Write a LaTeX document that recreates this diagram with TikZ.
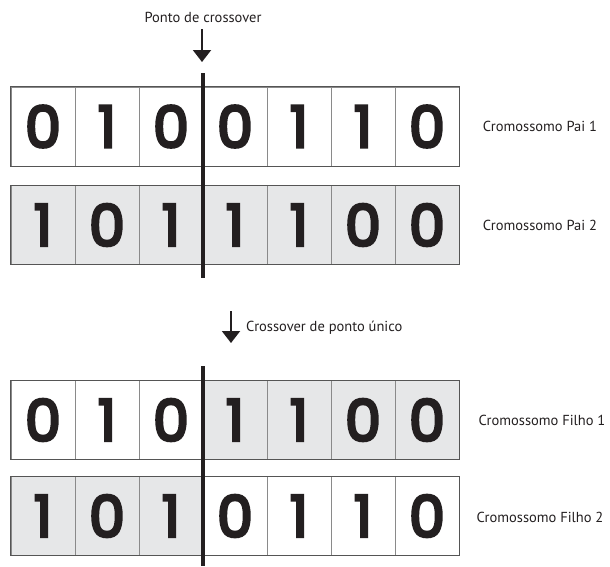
\documentclass[tikz,border=0pt]{standalone}
\usepackage{fontspec}
\setmainfont{PT Sans}
\newfontfamily\digitfont{Poppins}[FakeBold=5]
\usetikzlibrary{arrows.meta}
\definecolor{cellgray}{HTML}{E6E7E8}
\definecolor{divgray}{HTML}{8A8A8A}
\definecolor{outgray}{HTML}{555555}
\definecolor{ink}{HTML}{231F20}
\begin{document}
\begin{tikzpicture}[x=1pt,y=-1pt,
  cell/.style={draw=divgray,line width=0.8pt,minimum width=64pt,minimum height=79pt,inner sep=0pt,
    font=\digitfont\fontsize{57}{57}\selectfont,text=ink},
  g/.style={fill=cellgray},
  w/.style={fill=white},
  outer/.style={draw=outgray,line width=1pt},
  cut/.style={draw=ink,line width=3.3pt},
  lab/.style={font=\fontsize{14.5}{15}\selectfont,text=ink,inner sep=0pt},
  arr/.style={draw=ink,line width=2pt,-{Triangle[width=18pt,length=12pt]}}]
\useasboundingbox (0,0) rectangle (610,566);
% row 1: Pai 1
\foreach \v [count=\i] in {0,1,0,0,1,1,0}
  \node[cell,w] (a\i) at ({11+32+64*(\i-1)},126.5) {\v};
% row 2: Pai 2
\foreach \v [count=\i] in {1,0,1,1,1,0,0}
  \node[cell,g] (b\i) at ({11+32+64*(\i-1)},225) {\v};
% row 3: Filho 1
\foreach \v/\f [count=\i] in {0/w,1/w,0/w,1/g,1/g,0/g,0/g}
  \node[cell,\f] (c\i) at ({11+32+64*(\i-1)},420) {\v};
% row 4: Filho 2
\foreach \v/\f [count=\i] in {1/g,0/g,1/g,0/w,1/w,1/w,0/w}
  \node[cell,\f] (d\i) at ({11+32+64*(\i-1)},516) {\v};
\foreach \r in {a,b,c,d}
  \draw[outer] (\r1.north west) rectangle (\r7.south east);
% labels
\node[lab] (la) at (540,126.5) {Cromossomo Pai 1};
\node[lab] (lb) at (540,225) {Cromossomo Pai 2};
\node[lab] (lc) at (542,420) {Cromossomo Filho 1};
\node[lab] (ld) at (540,517) {Cromossomo Filho 2};
% crossover point
\node[lab] (pc) at (203,17) {Ponto de crossover};
\coordinate (p1s) at (202,29);
\coordinate (p1e) at (202,62);
\draw[arr] (p1s) -- (p1e);
\coordinate (cut1t) at (203,73);
\coordinate (cut1b) at (203,278);
\draw[cut] (cut1t) -- (cut1b);
\coordinate (cut2t) at (203,366);
\coordinate (cut2b) at (203,566);
\draw[cut] (cut2t) -- (cut2b);
% single point crossover
\coordinate (p2s) at (231,311);
\coordinate (p2e) at (231,343);
\draw[arr] (p2s) -- (p2e);
\node[lab,anchor=west] (sp) at (246,328) {Crossover de ponto único};
\end{tikzpicture}
\end{document}
